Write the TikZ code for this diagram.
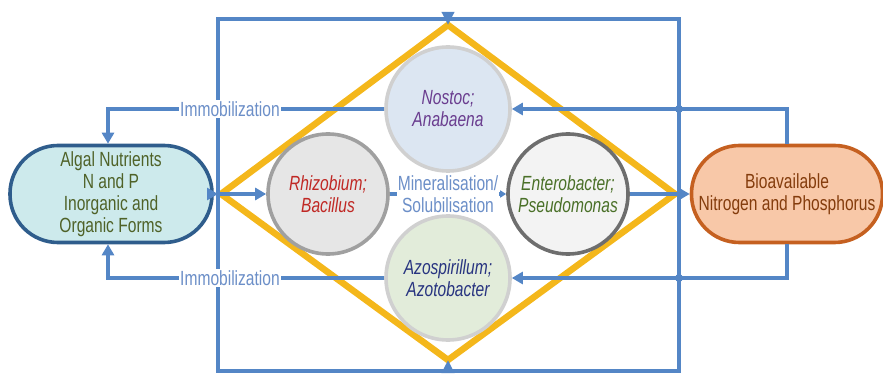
\documentclass[tikz,border=0pt]{standalone}
\usepackage{fontspec}
\setmainfont{Liberation Sans}[FakeStretch=0.76]
\usetikzlibrary{arrows.meta}
\definecolor{lineblue}{RGB}{84,134,198}
\definecolor{labelblue}{RGB}{108,143,200}
\definecolor{gold}{RGB}{244,183,27}
\definecolor{lfill}{RGB}{205,234,236}
\definecolor{lborder}{RGB}{47,93,140}
\definecolor{ltext}{RGB}{79,98,40}
\definecolor{rfill}{RGB}{248,200,168}
\definecolor{rborder}{RGB}{197,96,32}
\definecolor{rtext}{RGB}{132,60,12}
\definecolor{nfill}{RGB}{220,230,242}
\definecolor{afill}{RGB}{226,236,218}
\definecolor{hfill}{RGB}{230,230,230}
\definecolor{efill}{RGB}{243,243,243}
\definecolor{ltgrey}{RGB}{208,208,208}
\definecolor{midgrey}{RGB}{160,160,160}
\definecolor{dkgrey}{RGB}{110,110,110}
\definecolor{ntext}{RGB}{106,61,143}
\definecolor{atext}{RGB}{40,52,128}
\definecolor{htext}{RGB}{192,40,36}
\definecolor{etext}{RGB}{74,112,40}
\begin{document}
\begin{tikzpicture}[x=1pt,y=-1pt,
  every node/.style={font=\fontsize{20.5}{22}\selectfont, align=center},
  conn/.style={draw=lineblue, line width=3.4pt},
  tip/.style={-{Triangle[length=11pt,width=12pt]}},
  smalltip/.style={-{Triangle[length=6pt,width=7pt]}},
  stadium/.style={rectangle, rounded corners=48pt, line width=3.6pt, minimum height=97pt},
  bug/.style={circle, inner sep=0pt, line width=3.6pt, font=\fontsize{20.5}{22}\selectfont\itshape},
  lbl/.style={fill=white, inner sep=1pt, text=labelblue}]
\useasboundingbox (0,0) rectangle (883,374);
% diamond
\coordinate (dT) at (448,25);
\coordinate (dR) at (675,194);
\coordinate (dB) at (448,360);
\coordinate (dL) at (221,194);
\draw[gold, line width=6.5pt, line join=miter] (dT) -- (dR) -- (dB) -- (dL) -- cycle;
% outer rectangle
\coordinate (oTL) at (218,19);
\coordinate (oBR) at (679,371);
\coordinate (oT) at (448,19);
\coordinate (oB) at (448,371);
\draw[conn] (oTL) rectangle (oBR);
\draw[draw=lineblue, line width=3.4pt, -{Triangle[length=13pt,width=12pt]}] (oT) -- (dT);
\draw[draw=lineblue, line width=3.4pt, -{Triangle[length=13pt,width=12pt]}] (oB) -- (dB);
% circles
\node[bug, minimum size=124pt, fill=nfill, draw=ltgrey, text=ntext] (N) at (448,109) {Nostoc;\\Anabaena};
\node[bug, minimum size=124pt, fill=afill, draw=ltgrey, text=atext] (A) at (448,278) {Azospirillum;\\Azotobacter};
\node[bug, minimum size=120pt, fill=hfill, draw=midgrey, text=htext] (H) at (328,194) {Rhizobium;\\Bacillus};
\node[bug, minimum size=120pt, fill=efill, draw=dkgrey, text=etext] (E) at (568,194) {Enterobacter;\\Pseudomonas};
% boxes
\node[stadium, minimum width=202pt, fill=lfill, draw=lborder, text=ltext] (L) at (111,194) {Algal Nutrients\\N and P\\Inorganic and\\Organic Forms};
\node[stadium, minimum width=191pt, fill=rfill, draw=rborder, text=rtext] (R) at (787,194) {Bioavailable\\Nitrogen and Phosphorus};
% connectors
\coordinate (jL) at (218,194);
\draw[conn, tip] (L.east) -- (jL);
\draw[conn, tip] (jL) -- (H.west);
\draw[conn, tip] (E.east) -- (R.west);
\draw[conn, smalltip] (H.east) -- (E.west) node[midway, lbl] {Mineralisation/\\Solubilisation};
\draw[conn, tip] (R.north) |- (N.east);
\draw[conn, tip] (R.south) |- (A.east);
\draw[conn, tip] (N.west) -| ([xshift=-3pt]L.north);
\draw[conn, tip] (A.west) -| ([xshift=-3pt]L.south);
\fill[lineblue] (679,109) circle (4pt);
\fill[lineblue] (679,278) circle (4pt);
\node[lbl] (I1) at (230,109) {Immobilization};
\node[lbl] (I2) at (230,278) {Immobilization};
\end{tikzpicture}
\end{document}
